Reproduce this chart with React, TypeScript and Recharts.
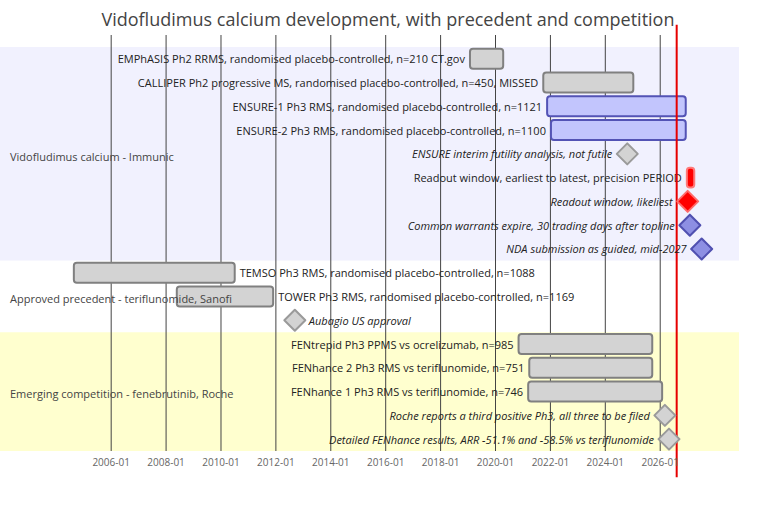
import React from 'react';
import { ComposedChart, XAxis, YAxis, ReferenceArea, ReferenceLine, Scatter } from 'recharts';

const immunicRows = [
  'EMPhASIS Ph2 RRMS, randomised placebo-controlled, n=210 CT.gov',
  'CALLIPER Ph2 progressive MS, randomised placebo-controlled, n=450, MISSED',
  'ENSURE-1 Ph3 RMS, randomised placebo-controlled, n=1121',
  'ENSURE-2 Ph3 RMS, randomised placebo-controlled, n=1100',
  'ENSURE interim futility analysis, not futile',
  'Readout window, earliest to latest, precision PERIOD',
  'Readout window, likeliest',
  'Common warrants expire, 30 trading days after topline',
  'NDA submission as guided, mid-2027',
];

const precedentRows = [
  'TEMSO Ph3 RMS, randomised placebo-controlled, n=1088',
  'TOWER Ph3 RMS, randomised placebo-controlled, n=1169',
  'Aubagio US approval',
];

const competitionRows = [
  'FENtrepid Ph3 PPMS vs ocrelizumab, n=985',
  'FENhance 2 Ph3 RMS vs teriflunomide, n=751',
  'FENhance 1 Ph3 RMS vs teriflunomide, n=746',
  'Roche reports a third positive Ph3, all three to be filed',
  'Detailed FENhance results, ARR -51.1% and -58.5% vs teriflunomide',
];

const groupNames = [
  'Vidofludimus calcium - Immunic',
  'Approved precedent - teriflunomide, Sanofi',
  'Emerging competition - fenebrutinib, Roche',
];

// dates as decimal years
const trials = [
  { name: immunicRows[0], start: 2019.07, end: 2020.28, status: 'done' },
  { name: immunicRows[1], start: 2021.74, end: 2025.02, status: 'done' },
  { name: immunicRows[2], start: 2021.88, end: 2026.93, status: 'pivotal' },
  { name: immunicRows[3], start: 2022.02, end: 2026.93, status: 'pivotal' },
  { name: immunicRows[5], start: 2026.97, end: 2027.24, status: 'readout' },
  { name: precedentRows[0], start: 2004.64, end: 2010.5, status: 'done' },
  { name: precedentRows[1], start: 2008.39, end: 2011.9, status: 'done' },
  { name: competitionRows[0], start: 2020.84, end: 2025.71, status: 'done' },
  { name: competitionRows[1], start: 2021.23, end: 2025.71, status: 'done' },
  { name: competitionRows[2], start: 2021.19, end: 2026.07, status: 'done' },
];

const milestones = [
  { name: immunicRows[4], date: 2024.8, status: 'done' },
  { name: immunicRows[6], date: 2027.0, status: 'readout' },
  { name: immunicRows[7], date: 2027.08, status: 'pivotal' },
  { name: immunicRows[8], date: 2027.51, status: 'pivotal' },
  { name: precedentRows[2], date: 2012.69, status: 'done' },
  { name: competitionRows[3], date: 2026.17, status: 'done' },
  { name: competitionRows[4], date: 2026.32, status: 'done' },
];

const yearTicks = [2006, 2008, 2010, 2012, 2014, 2016, 2018, 2020, 2022, 2024, 2026];
const xRange = [2001.95, 2028.87];
const yRange = [-1, 16.5];
const todayMark = 2026.6;

const rows = [...immunicRows, ...precedentRows, ...competitionRows];
const rowOf = (name: string) => rows.indexOf(name);
const groups = [immunicRows, precedentRows, competitionRows];
const rightLabelGroup = precedentRows;

const barStyle: Record<string, { fill: string; stroke: string }> = {
  done: { fill: '#d3d3d3', stroke: '#808080' },
  pivotal: { fill: '#c2c5fd', stroke: '#5353b5' },
  readout: { fill: '#ff0000', stroke: '#ff7a7a' },
};
const diamondStyle: Record<string, { fill: string; stroke: string }> = {
  done: { fill: '#d3d3d3', stroke: '#9a9a9a' },
  pivotal: { fill: '#8d8fe3', stroke: '#5050b0' },
  readout: { fill: '#ff0000', stroke: '#ff6a6a' },
};
const bandColors = ['#f1f1fe', '#ffffff', '#ffffcf'];

const LABEL_FILL = '#222';

const milestoneData = milestones.map((m) => ({ ...m, x: m.date, y: rowOf(m.name) }));

const Diamond = (props: any) => {
  const { cx, cy, payload } = props;
  const s = diamondStyle[payload.status];
  const r = 10.5;
  const right = rightLabelGroup.includes(payload.name);
  return (
    <g>
      <text
        x={right ? cx + 14 : cx - 15}
        y={cy}
        textAnchor={right ? 'start' : 'end'}
        dominantBaseline="central"
        fontSize={11}
        fontStyle="italic"
        fill={LABEL_FILL}
      >
        {payload.name}
      </text>
      <polygon
        points={`${cx},${cy - r} ${cx + r},${cy} ${cx},${cy + r} ${cx - r},${cy}`}
        fill={s.fill}
        stroke={s.stroke}
        strokeWidth={2}
        strokeLinejoin="round"
      />
    </g>
  );
};

const barShape = (name: string, status: string) => (props: any) => {
  const { x, y, width, height } = props;
  const s = barStyle[status];
  const right = rightLabelGroup.includes(name);
  return (
    <g>
      <rect x={x} y={y} width={width} height={height} rx={3} ry={3} fill={s.fill} stroke={s.stroke} strokeWidth={2} />
      <text
        x={right ? x + width + 5 : x - 5}
        y={y + height / 2}
        textAnchor={right ? 'start' : 'end'}
        dominantBaseline="central"
        fontSize={11}
        fill={LABEL_FILL}
      >
        {name}
      </text>
    </g>
  );
};

// grid line drawn as a thin reference area so it sits between bands and bars
const gridShape = (props: any) => {
  const { x, y, height } = props;
  return <line x1={x} x2={x} y1={y} y2={y + height} stroke="#444" strokeWidth={1} />;
};

export default function App() {
  let offset = 0;
  const bands = groups.map((g, i) => {
    const band = { name: groupNames[i], from: offset - 0.5, to: offset + g.length - 0.5, color: bandColors[i] };
    offset += g.length;
    return band;
  });

  return (
    <div style={{ position: 'absolute', left: 0, top: 0, width: 784, height: 508, fontFamily: '"Open Sans", sans-serif', background: '#fff' }}>
      <div
        style={{
          position: 'absolute',
          left: 0,
          top: 10,
          width: 776,
          textAlign: 'center',
          fontSize: 18,
          lineHeight: '18px',
          color: '#444',
        }}
      >
        Vidofludimus calcium development, with precedent and competition
      </div>
      <ComposedChart width={784} height={508} margin={{ top: 35, right: 45, bottom: 27, left: 0 }}>
        <XAxis
          type="number"
          dataKey="x"
          domain={xRange}
          ticks={yearTicks}
          allowDataOverflow
          axisLine={false}
          tickLine={false}
          tick={{ fill: '#666', fontSize: 10 }}
          tickFormatter={(v) => `${v}-01`}
          height={30}
        />
        <YAxis type="number" dataKey="y" domain={yRange} reversed hide allowDataOverflow />
        {bands.map((b) => (
          <ReferenceArea
            key={b.name}
            x1={xRange[0]}
            x2={xRange[1]}
            y1={b.from}
            y2={b.to}
            fill={b.color}
            fillOpacity={1}
            stroke="none"
            label={{ value: b.name, position: 'insideLeft', offset: 10, fill: '#444', fontSize: 11, dy: 3 }}
          />
        ))}
        {yearTicks.map((t) => (
          <ReferenceArea key={`g${t}`} x1={t} x2={t + 0.001} y1={yRange[0]} y2={yRange[1]} shape={gridShape} />
        ))}
        {trials.map((t) => (
          <ReferenceArea
            key={t.name}
            x1={t.start}
            x2={t.end}
            y1={rowOf(t.name) - 0.42}
            y2={rowOf(t.name) + 0.42}
            shape={barShape(t.name, t.status)}
          />
        ))}
        <ReferenceLine
          segment={[
            { x: todayMark, y: -1.43 },
            { x: todayMark, y: 17.6 },
          ]}
          stroke="#e60000"
          strokeWidth={2}
          ifOverflow="visible"
        />
        <Scatter data={milestoneData} shape={Diamond} isAnimationActive={false} />
      </ComposedChart>
    </div>
  );
}
